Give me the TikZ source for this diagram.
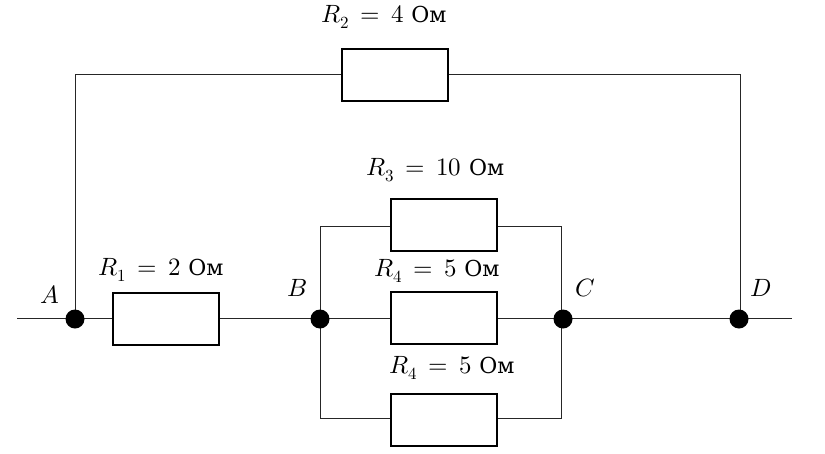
\documentclass[tikz,border=0pt]{standalone}
\usepackage{fontspec}
\usepackage{unicode-math}
\setmathfont{Latin Modern Math}
\newfontfamily\cyr{DejaVu Serif}
\DeclareMathSizes{25}{25}{17}{12}
\newcommand{\Om}{\text{\cyr\fontsize{22}{25}\selectfont Ом}}
\tikzset{
  res/.style={draw=black,fill=white,line width=1.6pt,minimum width=106pt,minimum height=52pt,inner sep=0pt,outer sep=0pt},
  wire/.style={line width=0.8pt,draw=black!85},
  junction/.style={circle,fill=black,minimum size=19pt,inner sep=0pt},
  lab/.style={inner sep=0pt,font=\fontsize{25}{29}\selectfont},
}
\begin{document}
\begin{tikzpicture}[x=1pt,y=-1pt]
\useasboundingbox (0,0) rectangle (825,453);
\coordinate (L) at (17,318.5);
\coordinate (Rr) at (792,318.5);
\coordinate (Ctop) at (561,226);
\coordinate (Cbot) at (561,418.5);
\coordinate (Btop) at (320,226);
\coordinate (Bbot) at (320,418.5);
\coordinate (Atop) at (75,74);
\coordinate (Dtop) at (740,74);
\draw[wire] (L) -- (Rr);
\draw[wire] (75,318.5) -- (Atop) -- (Dtop) -- (740,318.5);
\draw[wire] (320,318.5) -- (Btop) -- (Ctop) -- (561,318.5);
\draw[wire] (320,318.5) -- (Bbot) -- (Cbot) -- (561,318.5);
\node[junction] (A) at (75,319) {};
\node[junction] (B) at (320,319) {};
\node[junction] (C) at (563,319) {};
\node[junction] (D) at (739,319) {};
\node[res] (R1) at (166.2,318.7) {};
\node[res] (R2) at (394.7,75.2) {};
\node[res] (R3) at (443.7,224.7) {};
\node[res] (R4) at (443.7,317.7) {};
\node[res] (R5) at (443.7,419.7) {};
\node[lab] at (50,295) {$A$};
\node[lab] at (297,288) {$B$};
\node[lab] at (585,288) {$C$};
\node[lab] at (761,288) {$D$};
\node[lab] at (384,17) {$R_2\,=\,4\ \Om$};
\node[lab] at (435.5,170) {$R_3\,=\,10\ \Om$};
\node[lab] at (161,270) {$R_1\,=\,2\ \Om$};
\node[lab] at (437,271) {$R_4\,=\,5\ \Om$};
\node[lab] at (452,368) {$R_4\,=\,5\ \Om$};
\end{tikzpicture}
\end{document}
